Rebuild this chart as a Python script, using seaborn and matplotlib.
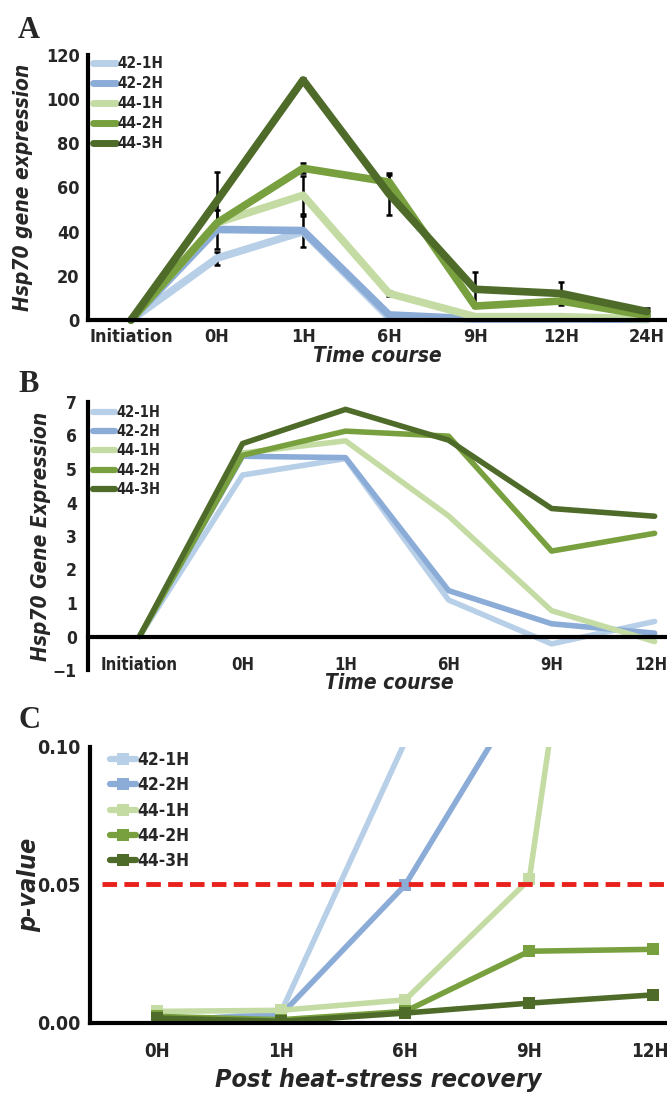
import numpy as np
import pandas as pd
import matplotlib
matplotlib.use('Agg')
import matplotlib.pyplot as plt
import matplotlib.font_manager as fm
from matplotlib.lines import Line2D
from matplotlib.transforms import ScaledTranslation
import seaborn as sns

# Series names and colours
series = ['42-1H', '42-2H', '44-1H', '44-2H', '44-3H']
colors = ['#b8cfe8', '#8cacd8', '#c4dca4', '#78a03e', '#4e6b29']

# Panel A: Hsp70 gene expression (fold change)
times_a = ['Initiation', '0H', '1H', '6H', '9H', '12H', '24H']
a_42_1h = [0, 28, 40, 1.0, 0.5, 0.5, 0.5]
a_42_2h = [0, 41, 40.5, 2.3, 0.5, 0.5, 0.3]
a_44_1h = [0, 44, 56.5, 12, 1.5, 1.5, 0.5]
a_44_2h = [0, 44, 68.7, 62.5, 6.3, 8.6, 2.0]
a_44_3h = [0, 54, 108.7, 57, 13.9, 12, 3.8]
# error bars for panel A
err_42_1h = [0, 3, 7, 0, 0, 0, 0]
err_42_2h = [0, 9, 0, 0, 0, 0, 0]
err_44_1h = [0, 0, 8.5, 1, 0, 0, 0]
err_44_2h = [0, 0, 2.3, 3, 0, 0, 0]
err_44_3h = [0, 13, 1, 9.5, 8, 5, 1.5]

# Panel B: log-scale expression
times_b = ['Initiation', '0H', '1H', '6H', '9H', '12H']
b_42_1h = [0, 4.82, 5.31, 1.09, -0.22, 0.45]
b_42_2h = [0, 5.38, 5.34, 1.37, 0.38, 0.10]
b_44_1h = [0, 5.48, 5.84, 3.60, 0.77, -0.15]
b_44_2h = [0, 5.41, 6.13, 5.98, 2.55, 3.08]
b_44_3h = [0, 5.76, 6.78, 5.86, 3.82, 3.59]

# Panel C: p-values
times_c = ['0H', '1H', '6H', '9H', '12H']
c_42_1h = [0.0, 0.004, 0.102, 0.35, 0.5]
c_42_2h = [0.001, 0.003, 0.050, 0.124, 0.3]
c_44_1h = [0.0042, 0.0046, 0.0084, 0.052, 0.36]
c_44_2h = [0.0024, 0.0012, 0.0042, 0.026, 0.0267]
c_44_3h = [0.0018, 0.0006, 0.0036, 0.0072, 0.0102]
p_cutoff = 0.0504


def long_form(times, values):
    rows = []
    for name, vals in zip(series, values):
        for i, (t, v) in enumerate(zip(times, vals)):
            rows.append({'pos': i, 'time': t, 'value': v, 'line': name})
    return pd.DataFrame(rows)


sns.set_style('white')

# pick a narrow sans if one is installed (the original uses Calibri)
names = {f.name for f in fm.fontManager.ttflist}
dejavu_cond = any(f.name == 'DejaVu Sans' and f.stretch == 'condensed' for f in fm.fontManager.ttflist)
if 'Liberation Sans Narrow' in names:
    plt.rcParams['font.family'] = ['Liberation Sans Narrow', 'DejaVu Sans']
elif dejavu_cond:
    plt.rcParams['font.family'] = ['DejaVu Sans']
    plt.rcParams['font.stretch'] = 'condensed'
else:
    plt.rcParams['font.family'] = ['Open Sans', 'Liberation Sans', 'DejaVu Sans']
plt.rcParams['font.weight'] = 'bold'

W, H = 667, 1099
fig = plt.figure(figsize=(W / 100, H / 100), dpi=100)
palette = dict(zip(series, colors))

def px_axes(left, top, bottom, right=667):
    return fig.add_axes([left / W, 1 - bottom / H, (right - left) / W, (bottom - top) / H])

def style_axes(ax):
    for s in ['top', 'right']:
        ax.spines[s].set_visible(False)
    for s in ['left', 'bottom']:
        ax.spines[s].set_color('black')
        ax.spines[s].set_linewidth(3)

def add_legend(ax, lw, anchor, size, spacing, hlen, marker=None):
    handles = [Line2D([], [], color=c, linewidth=lw, marker=marker, markersize=9,
                      markeredgewidth=0) for c in colors]
    ax.legend(handles, series, loc='upper left', bbox_to_anchor=anchor, frameon=False,
              fontsize=size, handlelength=hlen, handletextpad=0.05, labelspacing=spacing,
              borderpad=0, borderaxespad=0)

def nudge_last_label(ax, px):
    # last category label sits on the figure edge, pull it in a little
    lbl = ax.get_xticklabels()[-1]
    lbl.set_transform(lbl.get_transform() + ScaledTranslation(-px / 100, 0, fig.dpi_scale_trans))

label_font = dict(fontsize=15, fontweight='bold', fontstyle='italic')
letter_font = dict(fontsize=22, fontweight='bold', family=['Liberation Serif', 'DejaVu Serif'])

# ---------------- Panel A ----------------
axA = px_axes(88, 55, 320)
dfA = long_form(times_a, [a_42_1h, a_42_2h, a_44_1h, a_44_2h, a_44_3h])
sns.lineplot(data=dfA, x='pos', y='value', hue='line', palette=palette,
             linewidth=5.5, ax=axA, legend=False, clip_on=False)
errs = [err_42_1h, err_42_2h, err_44_1h, err_44_2h, err_44_3h]
vals = [a_42_1h, a_42_2h, a_44_1h, a_44_2h, a_44_3h]
for v, e in zip(vals, errs):
    e = np.array(e, dtype=float)
    m = e > 0
    axA.errorbar(np.arange(len(times_a))[m], np.array(v)[m], yerr=e[m], fmt='none',
                 ecolor='black', elinewidth=1.8, capsize=2.5, capthick=1.8, zorder=1)
axA.set_xlim(-0.5, 6.23)
axA.set_ylim(0, 120)
axA.set_yticks(range(0, 121, 20))
axA.set_xticks(range(len(times_a)))
axA.set_xticklabels(times_a)
axA.tick_params(axis='both', length=0, labelsize=13, pad=6)
axA.set_xlabel('Time course', labelpad=0, **label_font)
axA.set_ylabel('Hsp70 gene expression', labelpad=9, **label_font)
style_axes(axA)
add_legend(axA, 5, (0.008, 0.995), 11, 0.32, 1.55)
fig.text(18 / W, 1 - 38 / H, 'A', **letter_font)

# ---------------- Panel B ----------------
axB = px_axes(88, 402, 670)
dfB = long_form(times_b, [b_42_1h, b_42_2h, b_44_1h, b_44_2h, b_44_3h])
sns.lineplot(data=dfB, x='pos', y='value', hue='line', palette=palette,
             linewidth=4, ax=axB, legend=False, clip_on=False)
axB.set_xlim(-0.5, 5.12)
axB.set_ylim(-1, 7)
axB.set_yticks(range(-1, 8))
axB.set_xticks(range(len(times_b)))
axB.set_xticklabels(times_b)
style_axes(axB)
axB.spines['bottom'].set_position(('data', 0))
axB.tick_params(axis='both', length=0, labelsize=12.5)
axB.tick_params(axis='y', pad=8)
axB.tick_params(axis='x', pad=14, labelsize=12)
nudge_last_label(axB, 4)
axB.set_xlabel('Time course', **label_font)
axB.xaxis.set_label_coords(0.52, -0.01, transform=axB.transAxes)
axB.xaxis.label.set_va('top')
axB.set_ylabel('Hsp70 Gene Expression', labelpad=1, **label_font)
add_legend(axB, 4.5, (0.008, 0.99), 10.5, 0.3, 1.55)
fig.text(18 / W, 1 - 392 / H, 'B', **letter_font)

# ---------------- Panel C ----------------
axC = px_axes(90, 747, 1023)
dfC = long_form(times_c, [c_42_1h, c_42_2h, c_44_1h, c_44_2h, c_44_3h])
sns.lineplot(data=dfC, x='pos', y='value', hue='line', palette=palette,
             linewidth=4, marker='s', markersize=8, markeredgewidth=0,
             ax=axC, legend=False)
axC.axhline(p_cutoff, xmin=0.02, color='#e8211c', linestyle=(0, (3, 1.5)), linewidth=3.5)
axC.set_xlim(-0.54, 4.11)
axC.set_ylim(0, 0.10)
axC.set_yticks([0.00, 0.05, 0.10])
axC.set_yticklabels(['0.00', '0.05', '0.10'])
axC.set_xticks(range(len(times_c)))
axC.set_xticklabels(times_c)
style_axes(axC)
axC.tick_params(axis='y', direction='inout', length=10, width=2.5, labelsize=14, pad=2)
axC.tick_params(axis='x', length=0, labelsize=13.5, pad=14)
nudge_last_label(axC, 4)
axC.set_xlabel('Post heat-stress recovery', labelpad=5, fontsize=18,
               fontweight='bold', fontstyle='italic')
axC.set_ylabel('p-value', labelpad=-3, fontsize=18, fontweight='bold', fontstyle='italic')
add_legend(axC, 4.5, (0.035, 0.985), 12.5, 0.42, 1.5, marker='s')
fig.text(18 / W, 1 - 728 / H, 'C', **letter_font)

fig.savefig('out.png', dpi=100)
